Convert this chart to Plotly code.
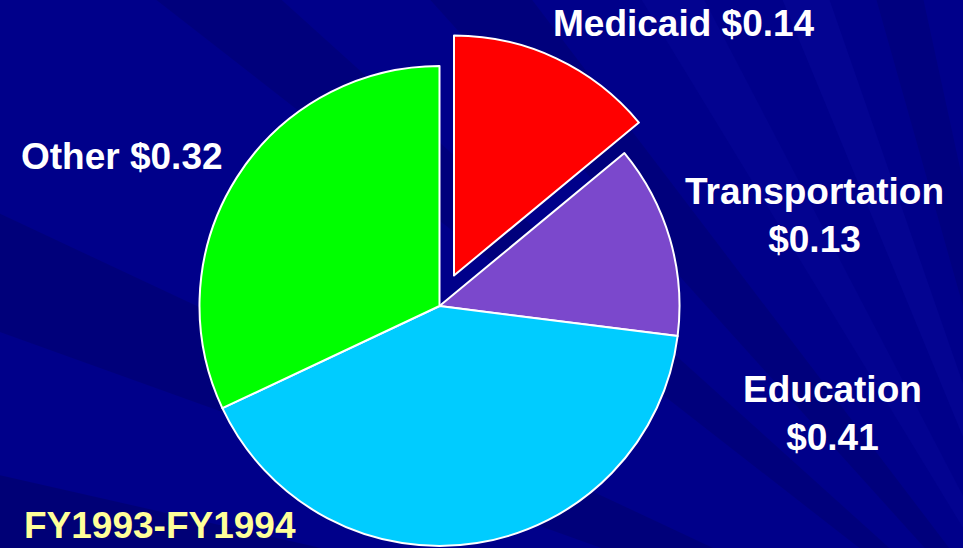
import plotly.graph_objects as go

# ---- data ----
categories = ["Medicaid", "Transportation", "Education", "Other"]
values = [0.14, 0.13, 0.41, 0.32]
colors = ["#FF0000", "#7B48CC", "#00CCFF", "#00FF00"]
label_sep = [" ", "<br>", "<br>", " "]
period_label = "FY1993-FY1994"

W, H = 963, 548
BG = "#00008A"

def px_x(x):
    return x / W

def px_y(y):
    return 1 - y / H

fig = go.Figure()

# main pie (Medicaid slot left empty)
main_colors = [c if i != 0 else "rgba(0,0,0,0)" for i, c in enumerate(colors)]
main_lw = [0 if i == 0 else 2 for i in range(len(values))]
cx, cy, r = 439.5, 306, 240
fig.add_trace(go.Pie(
    labels=categories, values=values, sort=False, direction="clockwise", rotation=0,
    marker=dict(colors=main_colors, line=dict(color="white", width=main_lw)),
    textinfo="none", hoverinfo="label+value", showlegend=False,
    domain=dict(x=[px_x(cx - r), px_x(cx + r)], y=[px_y(cy + r), px_y(cy - r)]),
))

# exploded Medicaid slice
pull_colors = [c if i == 0 else "rgba(0,0,0,0)" for i, c in enumerate(colors)]
pull_lw = [2 if i == 0 else 0 for i in range(len(values))]
pcx, pcy = cx + 14.5, cy - 30.5
fig.add_trace(go.Pie(
    labels=categories, values=values, sort=False, direction="clockwise", rotation=0,
    marker=dict(colors=pull_colors, line=dict(color="white", width=pull_lw)),
    textinfo="none", hoverinfo="label+value", showlegend=False,
    domain=dict(x=[px_x(pcx - r), px_x(pcx + r)], y=[px_y(pcy + r), px_y(pcy - r)]),
))

# subtle background rays from a point beyond the lower-right corner
sx, sy = 1080, 720
ray_targets = [
    ((-200, 120), (-200, 260), "rgba(0,0,50,0.18)"),
    ((-200, 430), (-200, 560), "rgba(0,0,50,0.22)"),
    ((-100, -200), (60, -200), "rgba(0,0,50,0.15)"),
    ((250, -200), (380, -200), "rgba(0,0,50,0.15)"),
    ((520, -200), (600, -200), "rgba(40,40,220,0.08)"),
    ((700, -200), (760, -200), "rgba(40,40,220,0.10)"),
    ((820, -200), (880, -200), "rgba(0,0,50,0.12)"),
    ((-200, 640), (-200, 760), "rgba(40,40,220,0.08)"),
]
shapes = []
for (a, b, col) in ray_targets:
    path = (f"M {px_x(sx)},{px_y(sy)} L {px_x(a[0])},{px_y(a[1])} "
            f"L {px_x(b[0])},{px_y(b[1])} Z")
    shapes.append(dict(type="path", xref="paper", yref="paper", path=path,
                       fillcolor=col, line=dict(width=0), layer="below"))

FONT = "Arial, 'Liberation Sans', sans-serif"
label_pos = [(684, 24), (814, 216), (832, 413), (122, 156)]
annotations = []
for cat, v, sep, (lx, ly) in zip(categories, values, label_sep, label_pos):
    annotations.append(dict(
        text=f"{cat}{sep}${v:.2f}", x=px_x(lx), y=px_y(ly), xref="paper", yref="paper",
        xanchor="center", yanchor="middle", showarrow=False, align="center",
        font=dict(family=FONT, size=37, color="white", weight="bold"),
    ))
annotations.append(dict(
    text=period_label, x=px_x(22), y=px_y(548), xref="paper", yref="paper",
    xanchor="left", yanchor="bottom", showarrow=False,
    font=dict(family=FONT, size=37, color="#FFFF99", weight="bold"),
))

fig.update_layout(
    width=W, height=H, margin=dict(l=0, r=0, t=0, b=0),
    paper_bgcolor=BG, plot_bgcolor=BG, showlegend=False,
    shapes=shapes, annotations=annotations,
)

fig.write_html(
    "out.html",
    config={"displayModeBar": False},
    post_script="document.body.style.margin='0px';document.body.style.background='" + BG + "';",
)
